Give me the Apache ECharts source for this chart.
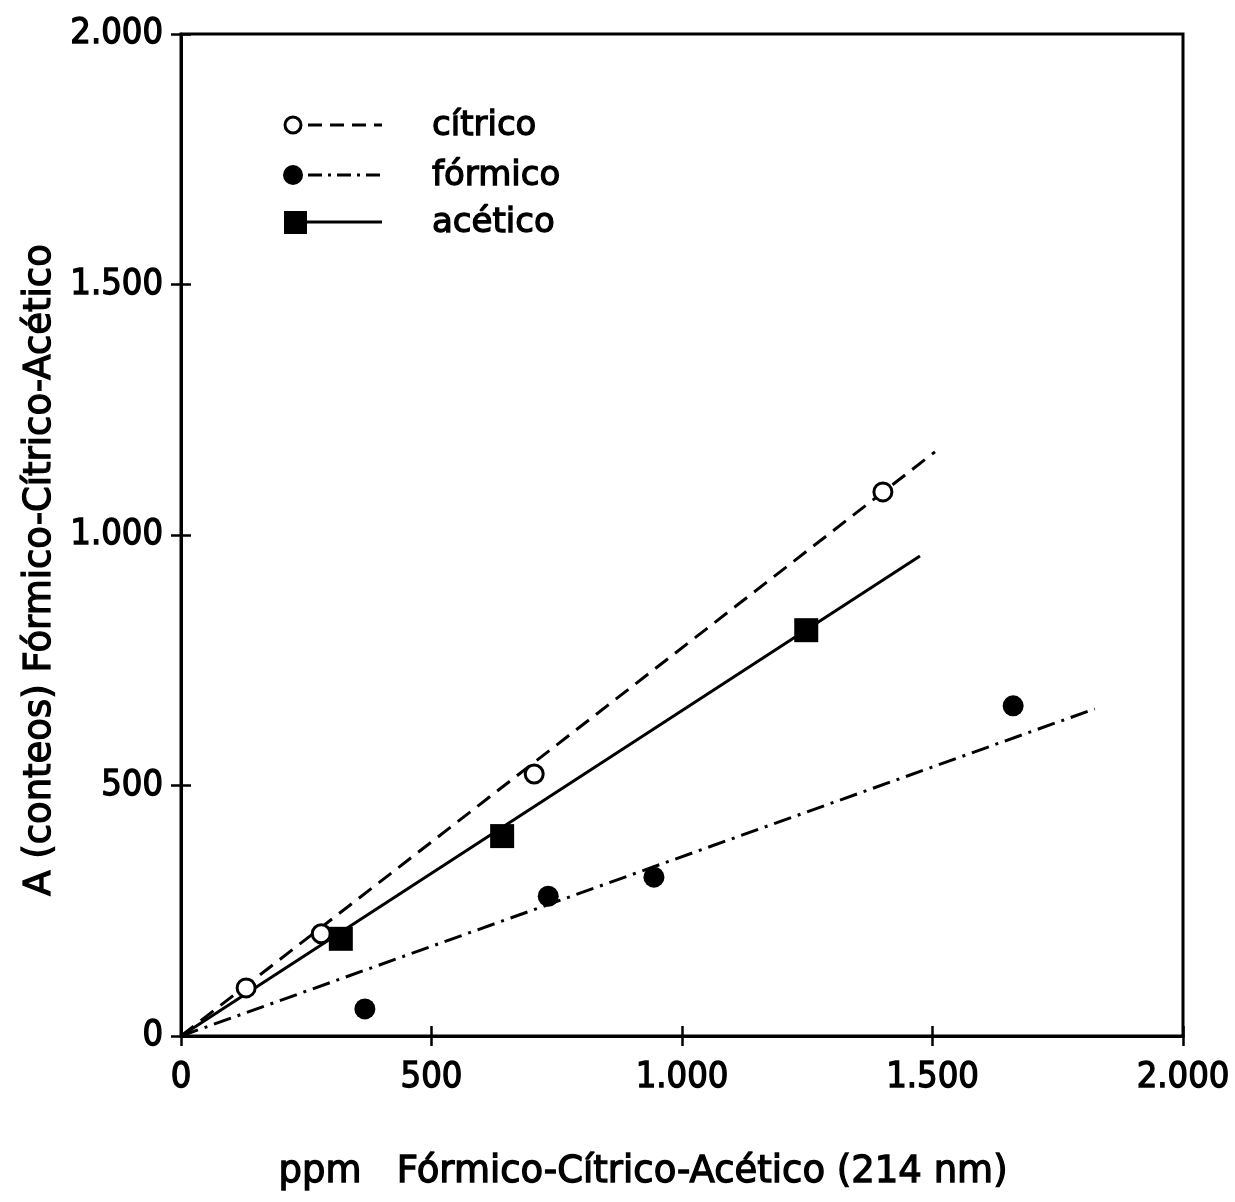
<!DOCTYPE html>
<html>
<head>
<meta charset="utf-8">
<script src="https://cdn.jsdelivr.net/npm/echarts@6/dist/echarts.min.js"></script>
<style>
  html, body { margin: 0; padding: 0; background: #fff; }
  #chart { width: 1235px; height: 1202px; }
</style>
</head>
<body>
<div id="chart"></div>
<script>
// Calibration points: concentration (ppm) vs. counts
const citricoPts = [[130, 96], [280, 204], [705, 523], [1401, 1086]];
const formicoPts = [[367, 54], [733, 279], [944, 317], [1661, 659]];
const aceticoPts = [[319, 194], [641, 399], [1248, 810]];

// Fitted calibration lines (start and end)
const citricoFit = [[0, 0], [1505, 1166]];
const formicoFit = [[0, 0], [1824, 653]];
const aceticoFit = [[0, 0], [1475, 958]];

// Axis tick labels
const xTickLabels = ['0', '500', '1.000', '1.500', '2.000'];
const yTickLabels = ['0', '500', '1.000', '1.500', '2.000'];

const legendNames = ['cítrico', 'fórmico', 'acético'];
const xTitle = 'ppm   Fórmico-Cítrico-Acético (214 nm)';
const yTitle = 'A (conteos) Fórmico-Cítrico-Acético';

const TICK_FONT = '"DejaVu Sans Condensed", "DejaVu Sans", sans-serif';
const LEGEND_FONT = '34px "DejaVu Sans", sans-serif';
const TITLE_FONT = '37px "DejaVu Sans", sans-serif';
const INK = '#000';
const WEIGHT = 1.3; // outline that thickens the lettering a little
const STROKE = { textBorderColor: INK, textBorderWidth: WEIGHT };

const chart = echarts.init(document.getElementById('chart'), null, { renderer: 'canvas' });

function tickFmt(labels) {
  return v => labels[Math.round(v / 500)] ?? '';
}

const axisCommon = {
  type: 'value', min: 0, max: 2000, interval: 500,
  splitLine: { show: false }
};

function textEl(x, y, text, font, extra) {
  return Object.assign({
    type: 'text', x, y,
    style: { text, font, fill: INK, stroke: INK, lineWidth: WEIGHT, verticalAlign: 'middle' }
  }, extra || {});
}

const xTitleEl = textEl(643, 1172, xTitle, TITLE_FONT);
xTitleEl.style.align = 'center';
const yTitleEl = textEl(40, 570, yTitle, TITLE_FONT, { rotation: Math.PI / 2 });
yTitleEl.style.align = 'center';

const option = {
  backgroundColor: '#fff',
  animation: false,
  grid: {
    left: 181, top: 34, width: 1002, height: 1002,
    show: true, borderColor: INK, borderWidth: 3, backgroundColor: 'transparent'
  },
  xAxis: [
    Object.assign({}, axisCommon, {
      position: 'bottom',
      axisLine: { show: true, lineStyle: { color: INK, width: 3 } },
      axisTick: { show: true, inside: false, length: 10, lineStyle: { color: INK, width: 2.5 } },
      axisLabel: Object.assign({ show: true, margin: 24, color: INK, fontSize: 36, fontFamily: TICK_FONT,
        formatter: tickFmt(xTickLabels) }, STROKE)
    }),
    Object.assign({}, axisCommon, {
      position: 'bottom',
      axisLine: { show: false },
      axisTick: { show: true, inside: true, length: 10, lineStyle: { color: INK, width: 2.5 } },
      axisLabel: { show: false }
    })
  ],
  yAxis: [
    Object.assign({}, axisCommon, {
      position: 'left',
      axisLine: { show: true, lineStyle: { color: INK, width: 3 } },
      axisTick: { show: true, inside: false, length: 10, lineStyle: { color: INK, width: 2.5 } },
      axisLabel: Object.assign({ show: true, margin: 18, color: INK, fontSize: 36, fontFamily: TICK_FONT,
        padding: [0, 0, 6, 0], formatter: tickFmt(yTickLabels) }, STROKE)
    }),
    Object.assign({}, axisCommon, {
      position: 'left',
      axisLine: { show: false },
      axisTick: { show: true, inside: true, length: 10, lineStyle: { color: INK, width: 2.5 } },
      axisLabel: { show: false }
    })
  ],
  series: [
    {
      name: 'cítrico-fit', type: 'line', data: citricoFit, showSymbol: false, z: 2,
      lineStyle: { color: INK, width: 3, type: [16, 9] }
    },
    {
      name: 'fórmico-fit', type: 'line', data: formicoFit, showSymbol: false, z: 2,
      lineStyle: { color: INK, width: 3, type: [18, 7, 3, 7] }
    },
    {
      name: 'acético-fit', type: 'line', data: aceticoFit, showSymbol: false, z: 2,
      lineStyle: { color: INK, width: 3 }
    },
    {
      name: legendNames[0], type: 'scatter', data: citricoPts, z: 5,
      symbol: 'circle', symbolSize: 18,
      itemStyle: { color: '#fff', borderColor: INK, borderWidth: 3, opacity: 1 }
    },
    {
      name: legendNames[1], type: 'scatter', data: formicoPts, z: 5,
      symbol: 'circle', symbolSize: 21,
      itemStyle: { color: INK, opacity: 1 }
    },
    {
      name: legendNames[2], type: 'scatter', data: aceticoPts, z: 5,
      symbol: 'rect', symbolSize: 24,
      itemStyle: { color: INK, opacity: 1 }
    }
  ],
  graphic: [
    // legend
    { type: 'circle', shape: { cx: 293, cy: 125, r: 8 }, style: { fill: '#fff', stroke: INK, lineWidth: 3 } },
    { type: 'line', shape: { x1: 308, y1: 125, x2: 382, y2: 125 }, style: { stroke: INK, lineWidth: 3, lineDash: [14, 8] } },
    textEl(432, 126, legendNames[0], LEGEND_FONT),

    { type: 'circle', shape: { cx: 293, cy: 175, r: 10 }, style: { fill: INK } },
    { type: 'line', shape: { x1: 308, y1: 175, x2: 382, y2: 175 }, style: { stroke: INK, lineWidth: 3, lineDash: [14, 6, 3, 6] } },
    textEl(432, 176, legendNames[1], LEGEND_FONT),

    { type: 'rect', shape: { x: 284, y: 211, width: 23, height: 23 }, style: { fill: INK } },
    { type: 'line', shape: { x1: 307, y1: 222, x2: 382, y2: 222 }, style: { stroke: INK, lineWidth: 3 } },
    textEl(432, 223, legendNames[2], LEGEND_FONT),

    // axis titles
    xTitleEl,
    yTitleEl
  ]
};

chart.setOption(option);
</script>
</body>
</html>
